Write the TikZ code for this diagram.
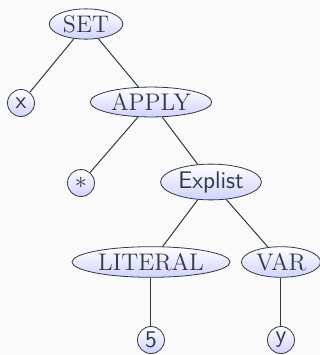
\documentclass[tikz,border=0pt]{standalone}
\usepackage{tikz}
\usetikzlibrary{positioning, calc, shapes.geometric}
\usepackage{xcolor}
\definecolor{ink}{HTML}{2F3B40}
\definecolor{tlo}{HTML}{FAFAFA}

\begin{document}
\begin{tikzpicture}[
    x=0.5pt, y=-0.5pt,
    every node/.style={font=\large, text=ink},
    op/.style={draw=ink, ellipse, inner xsep=1.5pt, inner ysep=1pt,
               top color=white, bottom color=blue!18, font=\large\rmfamily},
    leaf/.style={draw=ink, circle, inner sep=0pt, minimum size=13.5pt,
                 top color=white, bottom color=blue!18, font=\large\sffamily},
    link/.style={draw=ink, line width=0.5pt}]
  % --- tlo ---
  \fill[tlo] (0,0) rectangle (320,355);
  \useasboundingbox (0,0) rectangle (320,355);
  % --- wezly drzewa ---
  \node[op]   (set)     at (86,24)   {SET};
  \node[leaf] (x)       at (21,103)  {x};
  \node[op]   (apply)   at (151,102) {APPLY};
  \node[leaf] (star)    at (81,183)  {$*$};
  \node[op, font=\large\sffamily] (explist) at (211,182) {Explist};
  \node[op]   (literal) at (151,262) {LITERAL};
  \node[op]   (var)     at (281,262) {VAR};
  \node[leaf] (five)    at (151,340) {5};
  \node[leaf] (y)       at (281,340) {y};

  % --- krawedzie ---
  \draw[link] (set)     -- (x);
  \draw[link] (set)     -- (apply);
  \draw[link] (apply)   -- (star);
  \draw[link] (apply)   -- (explist);
  \draw[link] (explist) -- (literal);
  \draw[link] (explist) -- (var);
  \draw[link] (literal) -- (five);
  \draw[link] (var)     -- (y);
\end{tikzpicture}
\end{document}
